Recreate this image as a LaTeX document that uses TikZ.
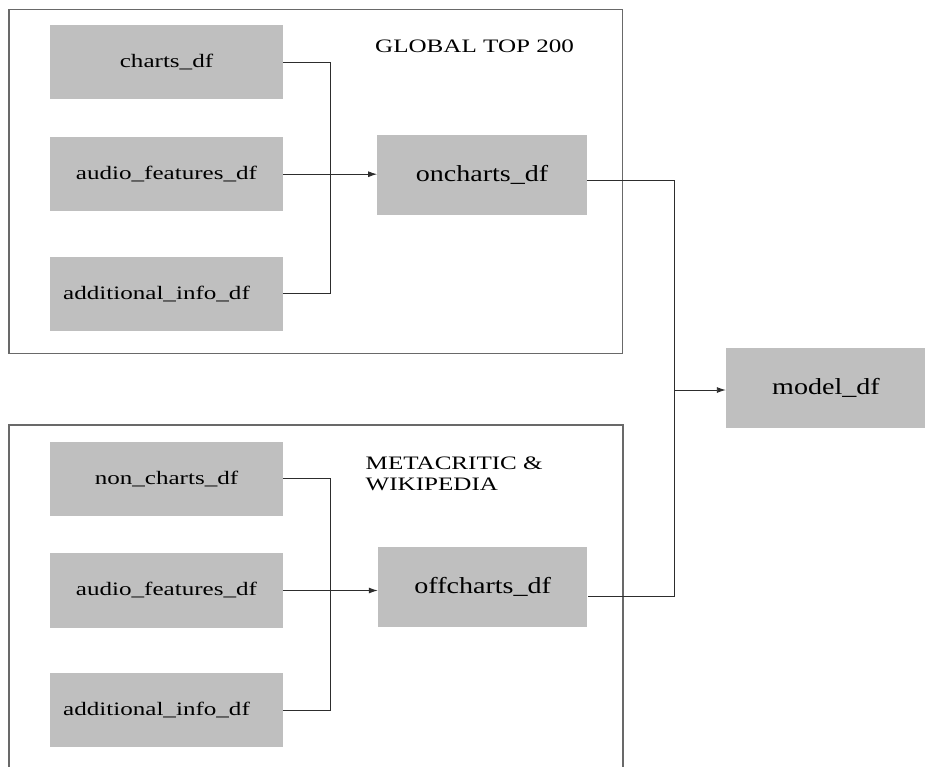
\documentclass[tikz,border=0pt]{standalone}
\usepackage{fontspec}
\setmainfont{Liberation Serif}
\newfontfamily\lblfont{Liberation Serif}[FakeStretch=1.32]
\newfontfamily\bigfont{Liberation Serif}[FakeStretch=1.22]
\usetikzlibrary{arrows.meta,calc}
\definecolor{boxfill}{RGB}{191,191,191}
\definecolor{framegray}{RGB}{105,105,105}
\definecolor{wiregray}{RGB}{45,45,45}
\tikzset{
  srcbox/.style={fill=boxfill, draw=none, minimum width=233pt, minimum height=74.5pt,
                 inner sep=0pt, font=\lblfont\fontsize{19}{21}\selectfont},
  joinbox/.style={fill=boxfill, draw=none, minimum width=209.5pt, minimum height=80pt,
                  inner sep=0pt, font=\bigfont\fontsize{23}{26}\selectfont},
  groupframe/.style={draw=framegray, line width=1.3pt},
  wire/.style={draw=wiregray, line width=0.9pt},
  feed/.style={wire, -{Latex[length=9pt,width=6pt]}},
  heading/.style={inner sep=0pt, align=left, font=\lblfont\fontsize{19}{21}\selectfont}
}
\begin{document}
\begin{tikzpicture}[x=1pt,y=-1pt]
\useasboundingbox (0,0) rectangle (925,766);
\clip (0,0) rectangle (925,766);
\fill[white] (0,0) rectangle (925,766);

% group frames
\draw[groupframe] (9,9.3) rectangle (622.7,353.3);
\draw[groupframe] (9,425) rectangle (623,790);

% group headings
\node[heading, anchor=base west] (gtitle) at (375,52.5) {GLOBAL TOP 200};
\node[heading, anchor=north west] (mtitle) at (365.5,456.5) {METACRITIC \&\\WIKIPEDIA};

% upper group sources
\node[srcbox] (charts) at (166.5,62.2) {charts\_df};
\node[srcbox] (audioA) at (166.5,174.2) {audio\_features\_df};
\node[srcbox] (addA) at (166.5,293.8) {\hspace*{-20pt}additional\_info\_df};
\node[joinbox] (oncharts) at (482,174.7) {oncharts\_df};

% lower group sources
\node[srcbox] (noncharts) at (166.5,478.8) {non\_charts\_df};
\node[srcbox] (audioB) at (166.5,590.5) {audio\_features\_df};
\node[srcbox] (addB) at (166.5,710) {\hspace*{-20pt}additional\_info\_df};
\node[joinbox] (offcharts) at (482.7,586.7) {offcharts\_df};

% result
\node[joinbox, minimum width=200pt] (model) at (826,387.5) {model\_df};

% bus coordinates
\coordinate (busA) at (330,0);
\coordinate (busB) at (330,0);
\coordinate (busM) at (674,0);

% upper merge
\draw[wire] (charts.east) -| (busA |- addA.east) -- (addA.east);
\draw[feed] (audioA.east) -- (audioA.east -| oncharts.west);

% lower merge
\draw[wire] (noncharts.east) -| (busB |- addB.east) -- (addB.east);
\draw[feed] (audioB.east) -- (audioB.east -| offcharts.west);

% final merge
\coordinate (onOut) at ($(oncharts.east)+(0,6)$);
\coordinate (offOut) at ($(offcharts.east)+(0,10)$);
\draw[wire] (onOut) -| (busM |- offOut) -- (offOut);
\draw[feed] (busM |- model.west) ++(0,2.5) -- ($(model.west)+(0,2.5)$);
\end{tikzpicture}
\end{document}
